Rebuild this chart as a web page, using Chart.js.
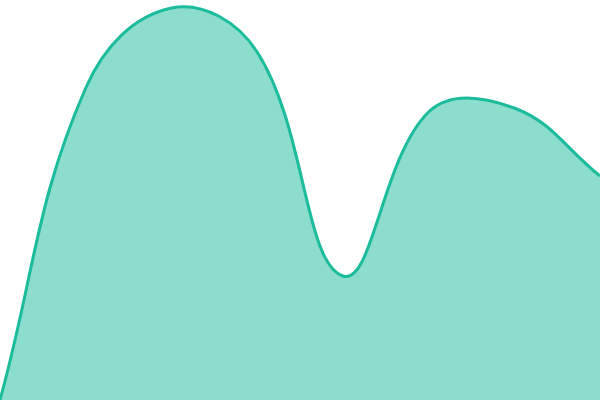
<!DOCTYPE html>
<html lang="en">
<head>
    <meta charset="UTF-8">
    <title>Area</title>
    <script src="https://cdn.jsdelivr.net/npm/chart.js"></script>
    <style>
        html, body {
            margin: 0;
            padding: 0;
            background: #fff;
        }
        .chart-container {
            width: 600px;
            height: 400px;
        }
    </style>
</head>
<body>
    <div class="chart-container">
        <canvas id="areaChart"></canvas>
    </div>

    <script>
        // Data
        const labels = ['1', '2', '3', '4', '5', '6', '7', '8'];
        const values = [0, 78, 98, 87, 31, 72, 73, 56];

        const ctx = document.getElementById('areaChart').getContext('2d');
        new Chart(ctx, {
            type: 'line',
            data: {
                labels: labels,
                datasets: [{
                    data: values,
                    fill: true,
                    tension: 0.4,
                    backgroundColor: 'rgba(26, 188, 156, 0.5)',
                    borderColor: '#1abc9c',
                    borderWidth: 3,
                    pointRadius: 0
                }]
            },
            options: {
                responsive: true,
                maintainAspectRatio: false,
                animation: false,
                layout: { padding: 0 },
                plugins: {
                    legend: { display: false },
                    tooltip: { enabled: false }
                },
                scales: {
                    x: { display: false },
                    y: { display: false, min: 0, max: 100 }
                }
            }
        });
    </script>
</body>
</html>
